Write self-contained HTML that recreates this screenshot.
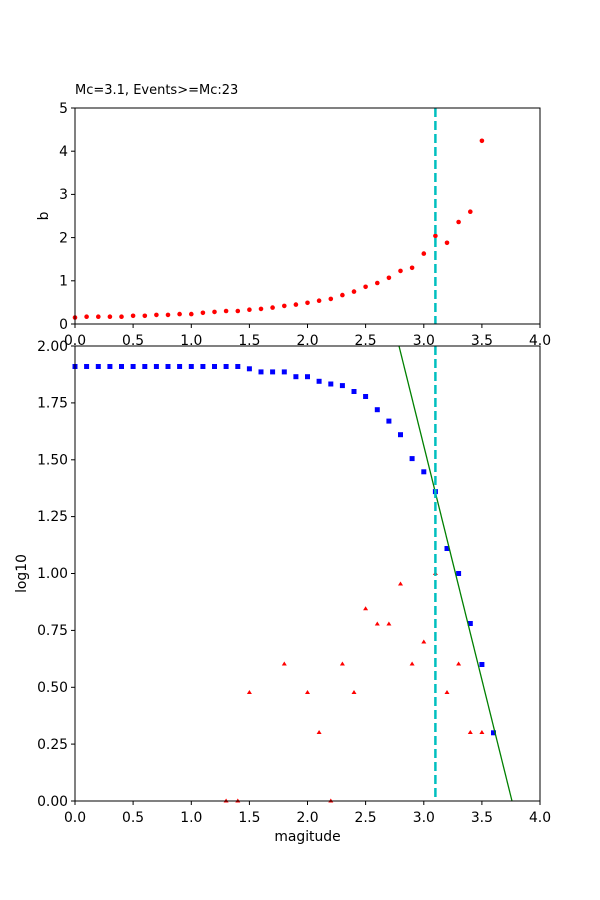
<!DOCTYPE html><html><head><style>body{margin:0;background:#fff}svg{display:block;font-family:"DejaVu Sans","Liberation Sans",sans-serif}</style></head><body>
<svg width="600" height="900" viewBox="0 0 600 900" xmlns="http://www.w3.org/2000/svg">
<rect width="600" height="900" fill="#fff"/>
<text x="75" y="94" font-size="13">Mc=3.1, Events&gt;=Mc:23</text>
<g fill="red">
<circle cx="75" cy="317.5" r="2.3"/><circle cx="86.6" cy="316.7" r="2.3"/><circle cx="98.3" cy="316.7" r="2.3"/><circle cx="109.9" cy="316.7" r="2.3"/><circle cx="121.5" cy="316.7" r="2.3"/><circle cx="133.1" cy="315.8" r="2.3"/><circle cx="144.8" cy="315.8" r="2.3"/><circle cx="156.4" cy="314.9" r="2.3"/><circle cx="168" cy="314.9" r="2.3"/><circle cx="179.6" cy="314.1" r="2.3"/><circle cx="191.3" cy="314.1" r="2.3"/><circle cx="202.9" cy="312.8" r="2.3"/><circle cx="214.5" cy="311.9" r="2.3"/><circle cx="226.1" cy="311" r="2.3"/><circle cx="237.8" cy="311" r="2.3"/><circle cx="249.4" cy="309.7" r="2.3"/><circle cx="261" cy="308.9" r="2.3"/><circle cx="272.6" cy="307.6" r="2.3"/><circle cx="284.3" cy="305.9" r="2.3"/><circle cx="295.9" cy="304.6" r="2.3"/><circle cx="307.5" cy="302.8" r="2.3"/><circle cx="319.1" cy="300.7" r="2.3"/><circle cx="330.8" cy="298.9" r="2.3"/><circle cx="342.4" cy="295.1" r="2.3"/><circle cx="354" cy="291.6" r="2.3"/><circle cx="365.6" cy="286.8" r="2.3"/><circle cx="377.3" cy="283" r="2.3"/><circle cx="388.9" cy="277.8" r="2.3"/><circle cx="400.5" cy="270.9" r="2.3"/><circle cx="412.1" cy="267.8" r="2.3"/><circle cx="423.8" cy="253.6" r="2.3"/><circle cx="435.4" cy="235.9" r="2.3"/><circle cx="447" cy="242.8" r="2.3"/><circle cx="458.6" cy="222" r="2.3"/><circle cx="470.3" cy="211.7" r="2.3"/><circle cx="481.9" cy="140.8" r="2.3"/>
</g>
<line x1="435.4" y1="108" x2="435.4" y2="324" stroke="#00bfbf" stroke-width="2.5" stroke-dasharray="9,4"/>
<rect x="75" y="108" width="465" height="216" fill="none" stroke="#000" stroke-width="1"/>
<g stroke="#000"><line x1="71" y1="324" x2="75" y2="324"/><line x1="71" y1="280.8" x2="75" y2="280.8"/><line x1="71" y1="237.6" x2="75" y2="237.6"/><line x1="71" y1="194.4" x2="75" y2="194.4"/><line x1="71" y1="151.2" x2="75" y2="151.2"/><line x1="71" y1="108" x2="75" y2="108"/>
<line x1="75" y1="324" x2="75" y2="328"/><line x1="133.1" y1="324" x2="133.1" y2="328"/><line x1="191.3" y1="324" x2="191.3" y2="328"/><line x1="249.4" y1="324" x2="249.4" y2="328"/><line x1="307.5" y1="324" x2="307.5" y2="328"/><line x1="365.6" y1="324" x2="365.6" y2="328"/><line x1="423.8" y1="324" x2="423.8" y2="328"/><line x1="481.9" y1="324" x2="481.9" y2="328"/><line x1="540" y1="324" x2="540" y2="328"/></g>
<g font-size="13.9" text-anchor="end"><text x="68" y="329">0</text><text x="68" y="285.5">1</text><text x="68" y="242.5">2</text><text x="68" y="199">3</text><text x="68" y="156">4</text><text x="68" y="113">5</text></g>
<g font-size="13.9" text-anchor="middle"><text x="75" y="345">0.0</text><text x="133.1" y="345">0.5</text><text x="191.3" y="345">1.0</text><text x="249.4" y="345">1.5</text><text x="307.5" y="345">2.0</text><text x="365.6" y="345">2.5</text><text x="423.8" y="345">3.0</text><text x="481.9" y="345">3.5</text><text x="540" y="345">4.0</text></g>
<text font-size="13.9" transform="translate(48,216) rotate(-90)" text-anchor="middle">b</text>
<rect x="75" y="346" width="465" height="455" fill="#fff"/>
<g fill="red">
<path d="M226.1 798.5l2.5 4h-5z M237.8 798.5l2.5 4h-5z M249.4 690l2.5 4h-5z M284.3 661.5l2.5 4h-5z M307.5 690l2.5 4h-5z M319.1 730l2.5 4h-5z M330.8 798.5l2.5 4h-5z M342.4 661.5l2.5 4h-5z M354 690l2.5 4h-5z M365.6 606.3l2.5 4h-5z M377.3 621.5l2.5 4h-5z M388.9 621.5l2.5 4h-5z M400.5 581.5l2.5 4h-5z M412.1 661.5l2.5 4h-5z M423.8 639.5l2.5 4h-5z M435.4 571l2.5 4h-5z M447 690l2.5 4h-5z M458.6 661.5l2.5 4h-5z M470.3 730l2.5 4h-5z M481.9 730l2.5 4h-5z"/>
</g>
<g fill="blue">
<rect x="72.5" y="364" width="5" height="5"/><rect x="84.1" y="364" width="5" height="5"/><rect x="95.8" y="364" width="5" height="5"/><rect x="107.4" y="364" width="5" height="5"/><rect x="119" y="364" width="5" height="5"/><rect x="130.6" y="364" width="5" height="5"/><rect x="142.3" y="364" width="5" height="5"/><rect x="153.9" y="364" width="5" height="5"/><rect x="165.5" y="364" width="5" height="5"/><rect x="177.1" y="364" width="5" height="5"/><rect x="188.8" y="364" width="5" height="5"/><rect x="200.4" y="364" width="5" height="5"/><rect x="212" y="364" width="5" height="5"/><rect x="223.6" y="364" width="5" height="5"/><rect x="235.3" y="364" width="5" height="5"/><rect x="246.9" y="366.3" width="5" height="5"/><rect x="258.5" y="369.4" width="5" height="5"/><rect x="270.1" y="369.4" width="5" height="5"/><rect x="281.8" y="369.4" width="5" height="5"/><rect x="293.4" y="374.2" width="5" height="5"/><rect x="305" y="374.2" width="5" height="5"/><rect x="316.6" y="378.8" width="5" height="5"/><rect x="328.3" y="381.5" width="5" height="5"/><rect x="339.9" y="383.1" width="5" height="5"/><rect x="351.5" y="389" width="5" height="5"/><rect x="363.1" y="394" width="5" height="5"/><rect x="374.8" y="407.2" width="5" height="5"/><rect x="386.4" y="418.6" width="5" height="5"/><rect x="398" y="432.2" width="5" height="5"/><rect x="409.6" y="456.1" width="5" height="5"/><rect x="421.3" y="469.3" width="5" height="5"/><rect x="432.9" y="489.1" width="5" height="5"/><rect x="444.5" y="546" width="5" height="5"/><rect x="456.1" y="571" width="5" height="5"/><rect x="467.8" y="621" width="5" height="5"/><rect x="479.4" y="662" width="5" height="5"/><rect x="491" y="730.3" width="5" height="5"/>
</g>
<line x1="399" y1="346" x2="512" y2="801" stroke="green" stroke-width="1.3"/>
<line x1="435.4" y1="346" x2="435.4" y2="801" stroke="#00bfbf" stroke-width="2.5" stroke-dasharray="9,4"/>
<rect x="75" y="346" width="465" height="455" fill="none" stroke="#000" stroke-width="1"/>
<g stroke="#000"><line x1="71" y1="801" x2="75" y2="801"/><line x1="71" y1="744.1" x2="75" y2="744.1"/><line x1="71" y1="687.3" x2="75" y2="687.3"/><line x1="71" y1="630.4" x2="75" y2="630.4"/><line x1="71" y1="573.5" x2="75" y2="573.5"/><line x1="71" y1="516.6" x2="75" y2="516.6"/><line x1="71" y1="459.8" x2="75" y2="459.8"/><line x1="71" y1="402.9" x2="75" y2="402.9"/><line x1="71" y1="346" x2="75" y2="346"/>
<line x1="75" y1="801" x2="75" y2="805"/><line x1="133.1" y1="801" x2="133.1" y2="805"/><line x1="191.3" y1="801" x2="191.3" y2="805"/><line x1="249.4" y1="801" x2="249.4" y2="805"/><line x1="307.5" y1="801" x2="307.5" y2="805"/><line x1="365.6" y1="801" x2="365.6" y2="805"/><line x1="423.8" y1="801" x2="423.8" y2="805"/><line x1="481.9" y1="801" x2="481.9" y2="805"/><line x1="540" y1="801" x2="540" y2="805"/></g>
<g font-size="13.9" text-anchor="end"><text x="68" y="806">0.00</text><text x="68" y="749">0.25</text><text x="68" y="692">0.50</text><text x="68" y="635">0.75</text><text x="68" y="578">1.00</text><text x="68" y="521">1.25</text><text x="68" y="464.5">1.50</text><text x="68" y="407.5">1.75</text><text x="68" y="351">2.00</text></g>
<g font-size="13.9" text-anchor="middle"><text x="75" y="822">0.0</text><text x="133.1" y="822">0.5</text><text x="191.3" y="822">1.0</text><text x="249.4" y="822">1.5</text><text x="307.5" y="822">2.0</text><text x="365.6" y="822">2.5</text><text x="423.8" y="822">3.0</text><text x="481.9" y="822">3.5</text><text x="540" y="822">4.0</text></g>
<text x="307.5" y="841" font-size="13.9" text-anchor="middle">magitude</text>
<text font-size="13.9" transform="translate(26,573.5) rotate(-90)" text-anchor="middle">log10</text>
</svg>
</body></html>
